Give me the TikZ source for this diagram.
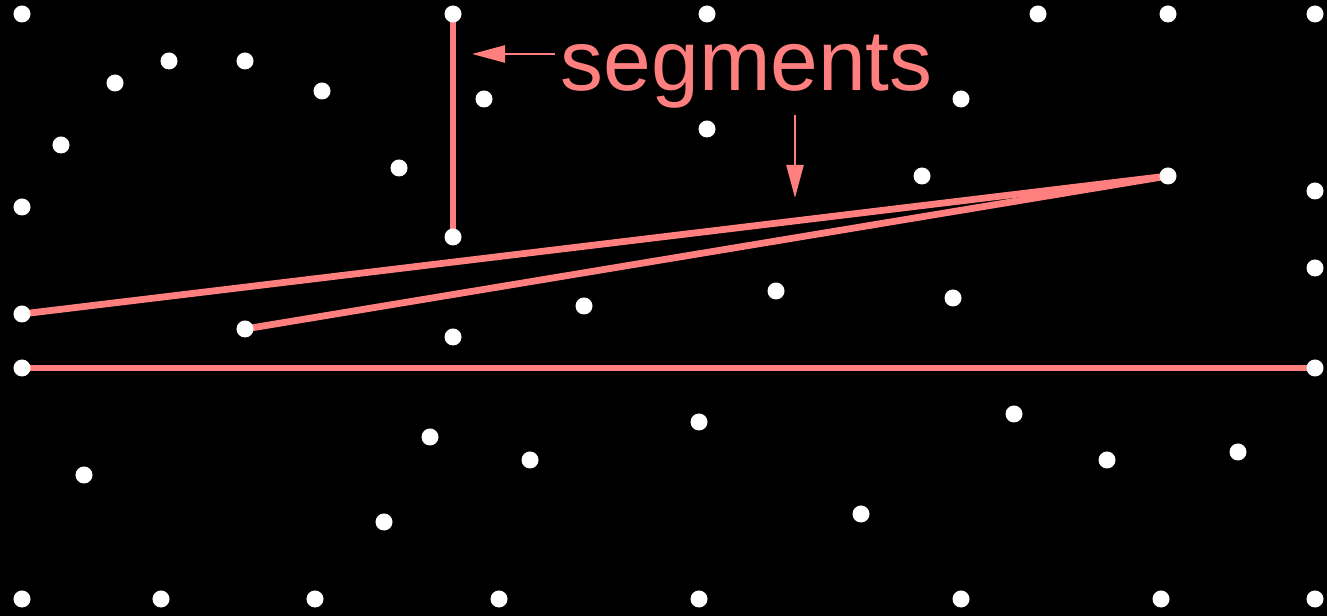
\documentclass[tikz,border=0pt]{standalone}
\usepackage{fontspec}
\setmainfont{Liberation Sans}
\usetikzlibrary{arrows.meta}
\definecolor{seg}{HTML}{FF7F7F}
\begin{document}
\begin{tikzpicture}[x=0.01cm,y=-0.01cm,
  dot/.style={circle,fill=white,inner sep=0pt,minimum size=0.17cm},
  segline/.style={draw=seg,line width=0.068cm},
  callout/.style={draw=seg,line width=0.025cm,-{Triangle[length=0.33cm,width=0.17cm]}},
  lbl/.style={text=seg,font=\fontsize{24.4}{28}\selectfont,inner sep=0pt}]
\fill[black] (0,0) rectangle (1327,616);
\useasboundingbox (0,0) rectangle (1327,616);
% points
\foreach \n/\x/\y in {
 a1/22/14, a2/453/14, a3/707/14, a4/1038/14, a5/1168/14, a6/1315/14,
 b1/115/83, b2/169/61, b3/245/61, b4/322/91, b5/484/99, b6/61/145,
 b7/22/207, b8/399/168, b9/707/129, b10/961/99, b11/922/176, b12/1168/176,
 b13/1315/191, b14/453/237, b15/1315/268, b16/22/314, b17/245/329, b18/453/337,
 b19/584/306, b20/776/291, b21/953/298, b22/22/368, b23/1315/368,
 c1/430/437, c2/530/460, c3/84/475, c4/384/522, c5/699/422, c6/861/514,
 c7/1014/414, c8/1107/460, c9/1238/452,
 d1/22/599, d2/161/599, d3/315/599, d4/499/599, d5/699/599, d6/961/599,
 d7/1161/599, d8/1315/599}
 {\coordinate (\n) at (\x,\y);}
% segments
\draw[segline] (a2) -- (b14);
\draw[segline] (b16) -- (b12);
\draw[segline] (b17) -- (b12);
\draw[segline] (b22) -- (b23);
% dots
\foreach \n in {a1,a2,a3,a4,a5,a6,b1,b2,b3,b4,b5,b6,b7,b8,b9,b10,b11,b12,b13,b14,b15,b16,b17,b18,b19,b20,b21,b22,b23,c1,c2,c3,c4,c5,c6,c7,c8,c9,d1,d2,d3,d4,d5,d6,d7,d8}
 {\node[dot] (dot\n) at (\n) {};}
% label
\node[lbl,anchor=base west] (label) at (560,91) {segments};
\coordinate (t1s) at (555,54);
\coordinate (t1e) at (472,54);
\coordinate (t2s) at (795,115);
\coordinate (t2e) at (795,198);
\draw[callout] (t1s) -- (t1e);
\draw[callout] (t2s) -- (t2e);
\end{tikzpicture}
\end{document}
